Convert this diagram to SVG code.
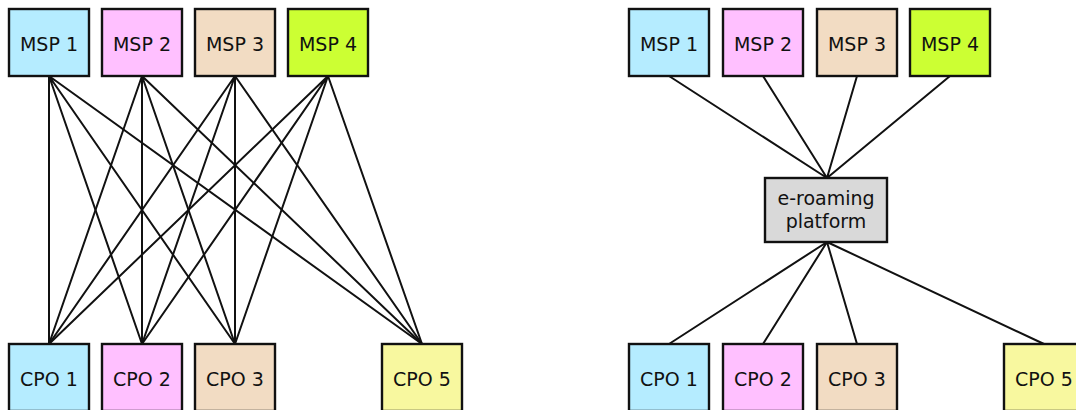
<svg xmlns="http://www.w3.org/2000/svg" width="1076" height="410" viewBox="0 0 1076 410">
<style>
.box{stroke:#111;stroke-width:2.4}
.lbl{font-family:"DejaVu Sans",sans-serif;font-size:19px;fill:#111;text-anchor:middle}
.c1{fill:#b5ecff}.c2{fill:#ffc0ff}.c3{fill:#f2dcc3}.c4{fill:#ccff33}.c5{fill:#f8f89f}.cp{fill:#d9d9d9}
.edge{stroke:#111;stroke-width:2;fill:none}
</style>
<rect width="1076" height="410" fill="#fff"/>
<g id="connectors">
<g id="mesh">
<path class="edge" d="M49 76L49 344M49 76L142 344M49 76L235 344M49 76L422 344"/>
<path class="edge" d="M142 76L49 344M142 76L142 344M142 76L235 344M142 76L422 344"/>
<path class="edge" d="M235 76L49 344M235 76L142 344M235 76L235 344M235 76L422 344"/>
<path class="edge" d="M328 76L49 344M328 76L142 344M328 76L235 344M328 76L422 344"/>
</g>
<g id="hub">
<path class="edge" d="M669 76L827 178M763 76L827 178M857 76L827 178M950 76L827 178"/>
<path class="edge" d="M827 242L669 344M827 242L763 344M827 242L857 344M827 242L1044 344"/>
</g>
</g>
<g id="L-MSP1"><rect class="box c1" x="9" y="9" width="80" height="67"/><text class="lbl" x="49" y="51">MSP 1</text></g>
<g id="L-MSP2"><rect class="box c2" x="102" y="9" width="80" height="67"/><text class="lbl" x="142" y="51">MSP 2</text></g>
<g id="L-MSP3"><rect class="box c3" x="195" y="9" width="80" height="67"/><text class="lbl" x="235" y="51">MSP 3</text></g>
<g id="L-MSP4"><rect class="box c4" x="288" y="9" width="80" height="67"/><text class="lbl" x="328" y="51">MSP 4</text></g>
<g id="L-CPO1"><rect class="box c1" x="9" y="344" width="80" height="67"/><text class="lbl" x="49" y="386">CPO 1</text></g>
<g id="L-CPO2"><rect class="box c2" x="102" y="344" width="80" height="67"/><text class="lbl" x="142" y="386">CPO 2</text></g>
<g id="L-CPO3"><rect class="box c3" x="195" y="344" width="80" height="67"/><text class="lbl" x="235" y="386">CPO 3</text></g>
<g id="L-CPO5"><rect class="box c5" x="382" y="344" width="80" height="67"/><text class="lbl" x="422" y="386">CPO 5</text></g>
<g id="R-MSP1"><rect class="box c1" x="629" y="9" width="80" height="67"/><text class="lbl" x="669" y="51">MSP 1</text></g>
<g id="R-MSP2"><rect class="box c2" x="723" y="9" width="80" height="67"/><text class="lbl" x="763" y="51">MSP 2</text></g>
<g id="R-MSP3"><rect class="box c3" x="817" y="9" width="80" height="67"/><text class="lbl" x="857" y="51">MSP 3</text></g>
<g id="R-MSP4"><rect class="box c4" x="910" y="9" width="80" height="67"/><text class="lbl" x="950" y="51">MSP 4</text></g>
<g id="platform"><rect class="box cp" x="765" y="178" width="122" height="64"/><text class="lbl" x="826" y="205">e-roaming</text><text class="lbl" x="826" y="228">platform</text></g>
<g id="R-CPO1"><rect class="box c1" x="629" y="344" width="80" height="67"/><text class="lbl" x="669" y="386">CPO 1</text></g>
<g id="R-CPO2"><rect class="box c2" x="723" y="344" width="80" height="67"/><text class="lbl" x="763" y="386">CPO 2</text></g>
<g id="R-CPO3"><rect class="box c3" x="817" y="344" width="80" height="67"/><text class="lbl" x="857" y="386">CPO 3</text></g>
<g id="R-CPO5"><rect class="box c5" x="1004" y="344" width="80" height="67"/><text class="lbl" x="1044" y="386">CPO 5</text></g>
</svg>
